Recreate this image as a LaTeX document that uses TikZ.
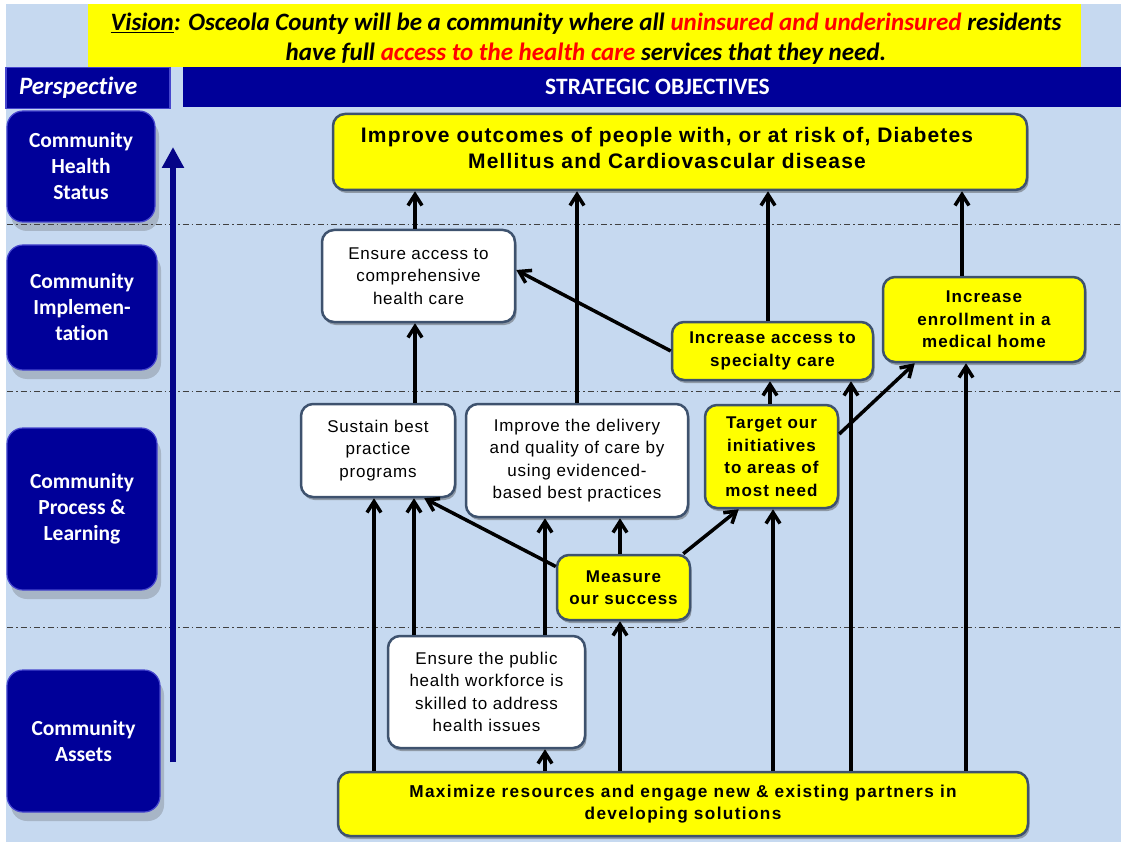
\documentclass[tikz,border=0pt]{standalone}
\usepackage{fontspec}
\setmainfont{Liberation Sans}
\newfontfamily\calfont{Carlito}[Ligatures=NoCommon]
\usetikzlibrary{arrows.meta,shadows,calc}
\definecolor{bgblue}{RGB}{198,217,240}
\definecolor{navy}{RGB}{0,0,153}
\definecolor{navyedge}{RGB}{70,70,205}
\definecolor{yel}{RGB}{255,255,0}
\definecolor{slate}{RGB}{62,82,110}
\definecolor{vred}{RGB}{255,0,0}
\definecolor{axisblue}{RGB}{5,5,135}
\begin{document}
\begin{tikzpicture}[x=1pt,y=-1pt,
  objbox/.style={draw=slate, line width=2.5pt, rounded corners=12pt, align=center, inner sep=0pt,
    drop shadow={shadow xshift=1.5pt, shadow yshift=-3pt, opacity=0.45, fill=black!70}},
  plainbox/.style={objbox, fill=white, font=\fontsize{17}{22.5}\selectfont\addfontfeature{LetterSpace=4.5}},
  keybox/.style={objbox, fill=yel, font=\fontsize{17}{22.5}\selectfont\bfseries\addfontfeature{LetterSpace=6}},
  persbox/.style={fill=navy, draw=navyedge, line width=1.2pt, rounded corners=16pt, text=white,
    align=center, inner sep=0pt, font=\calfont\bfseries\fontsize{21.5}{26}\selectfont,
    drop shadow={shadow xshift=4pt, shadow yshift=-9pt, opacity=0.25, fill=black!70}},
  link/.style={line width=3.5pt, -{Straight Barb[length=11pt,width=14pt]}},
  band/.style={black!75, line width=1pt, dash pattern=on 6pt off 3pt on 1.5pt off 3pt}
]
\useasboundingbox (0,0) rectangle (1121,842);
\fill[white] (0,0) rectangle (1121,842);
\fill[bgblue] (6,4) rectangle (1121,842);

% vision banner and header bars
\node[fill=yel, minimum width=993pt, minimum height=63pt, inner sep=0pt] (vision) at (584.5,35.5) {};
\node[align=center, inner sep=0pt, font=\calfont\bfseries\itshape\fontsize{25}{30}\selectfont]
  (visiontext) at (586,38.5)
  {\underline{Vision}: Osceola County will be a community where all \textcolor{vred}{uninsured and underinsured} residents\\
   have full \textcolor{vred}{access to the health care} services that they need.};
\node[fill=navy, draw=navyedge, line width=1.2pt, minimum height=41pt, text width=138pt, inner xsep=13pt,
  inner ysep=0pt, align=left, text=white, font=\calfont\bfseries\itshape\fontsize{25}{28}\selectfont]
  (persp) at (88,88) {Perspective};
\node[fill=navy, minimum width=949pt, minimum height=40pt, inner sep=0pt, text=white,
  font=\calfont\bfseries\fontsize{23.5}{26}\selectfont] (strat) at (657.5,87) {STRATEGIC OBJECTIVES};

% perspective bands
\draw[band] (7,225) -- (1121,225);
\draw[band] (7,391) -- (1121,391);
\draw[band] (7,627) -- (1121,627);

% upward axis
\coordinate (axisfoot) at (173,762);
\coordinate (axishead) at (173,147);
\draw[axisblue, line width=6pt, -{Triangle[length=21pt,width=21pt]}] (axisfoot) -- (axishead);

% perspective labels
\node[persbox, minimum width=148pt, minimum height=111pt] (health) at (81,166.5) {Community\\Health\\Status};
\node[persbox, minimum width=150pt, minimum height=125pt] (impl) at (82,307.5) {Community\\Implemen-\\tation};
\node[persbox, minimum width=150pt, minimum height=162pt] (process) at (82,509) {Community\\Process \&\\Learning};
\node[persbox, minimum width=153pt, minimum height=142pt] (assets) at (83.5,741) {Community\\Assets};

% objectives
\node[keybox, minimum width=694pt, minimum height=76pt] (outcome) at (680,152) {};
\node[align=center, inner sep=0pt, font=\fontsize{21}{26}\selectfont\bfseries\addfontfeature{LetterSpace=5.5}]
  (outcometext) at ([xshift=-13pt,yshift=4pt]outcome.center)
  {Improve outcomes of people with, or at risk of, Diabetes\\Mellitus and Cardiovascular disease};
\node[plainbox, minimum width=193pt, minimum height=92pt] (access) at (418.5,276) {Ensure access to\\comprehensive\\health care};
\node[keybox, minimum width=201pt, minimum height=58pt] (specialty) at (772.5,351) {Increase access to\\specialty care};
\node[keybox, minimum width=202pt, minimum height=85pt] (enroll) at (984,319.5) {Increase\\enrollment in a\\medical home};
\node[keybox, minimum width=133pt, minimum height=103pt] (target) at (771.5,456.5) {Target our\\initiatives\\to areas of\\most need};
\node[plainbox, minimum width=154pt, minimum height=93pt] (sustain) at (378,450.5) {Sustain best\\practice\\programs};
\node[plainbox, minimum width=222pt, minimum height=113pt] (deliver) at (577,460.5) {Improve the delivery\\and quality of care by\\using evidenced-\\based best practices};
\node[keybox, minimum width=133pt, minimum height=65pt] (measure) at (623.5,587.5) {Measure\\our success};
\node[plainbox, minimum width=197pt, minimum height=112pt] (workforce) at (486.5,692) {Ensure the public\\health workforce is\\skilled to address\\health issues};
\node[keybox, minimum width=690pt, minimum height=64pt,
  font=\fontsize{17.2}{22}\selectfont\bfseries\addfontfeature{LetterSpace=8}]
  (resources) at (683,804) {Maximize resources and engage new \& existing partners in\\developing solutions};

% links between objectives
\draw[link] ([xshift=-3.5pt]access.north) -- ([xshift=-3.5pt]access.north |- outcome.south);
\draw[link] (deliver.north) -- (deliver.north |- outcome.south);
\draw[link] ([xshift=-4.5pt]specialty.north) -- ([xshift=-4.5pt]specialty.north |- outcome.south);
\draw[link] ([xshift=-22pt]enroll.north) -- ([xshift=-22pt]enroll.north |- outcome.south);
\draw[link] ([xshift=37pt]sustain.north) -- ([xshift=37pt]sustain.north |- access.south);
\draw[link] (specialty.west) -- ([yshift=6pt]access.east);
\draw[link] ([xshift=-1.5pt]target.north) -- ([xshift=-1.5pt]target.north |- specialty.south);
\draw[link] ([yshift=22.5pt]target.east) -- ([xshift=33pt]enroll.south west);
\draw[link] ([xshift=78.5pt]specialty.south |- resources.north) -- ([xshift=78.5pt]specialty.south);
\draw[link] ([xshift=-18pt]enroll.south |- resources.north) -- ([xshift=-18pt]enroll.south);
\draw[link] ([yshift=21pt]measure.west) -- ([xshift=-32pt]sustain.south east);
\draw[link] ([xshift=-3.5pt]measure.north) -- ([xshift=-3.5pt]measure.north |- deliver.south);
\draw[link] ([xshift=-8pt]measure.north east) -- ([xshift=35pt]target.south west);
\draw[link] ([xshift=-3.5pt]measure.south |- resources.north) -- ([xshift=-3.5pt]measure.south);
\draw[link] ([xshift=36pt]sustain.south |- workforce.north) -- ([xshift=36pt]sustain.south);
\draw[link] ([xshift=-32pt]deliver.south |- workforce.north) -- ([xshift=-32pt]deliver.south);
\draw[link] ([xshift=-4pt]sustain.south |- resources.north) -- ([xshift=-4pt]sustain.south);
\draw[link] ([xshift=58.5pt]workforce.south |- resources.north) -- ([xshift=58.5pt]workforce.south);
\draw[link] ([xshift=1.5pt]target.south |- resources.north) -- ([xshift=1.5pt]target.south);
\end{tikzpicture}
\end{document}
